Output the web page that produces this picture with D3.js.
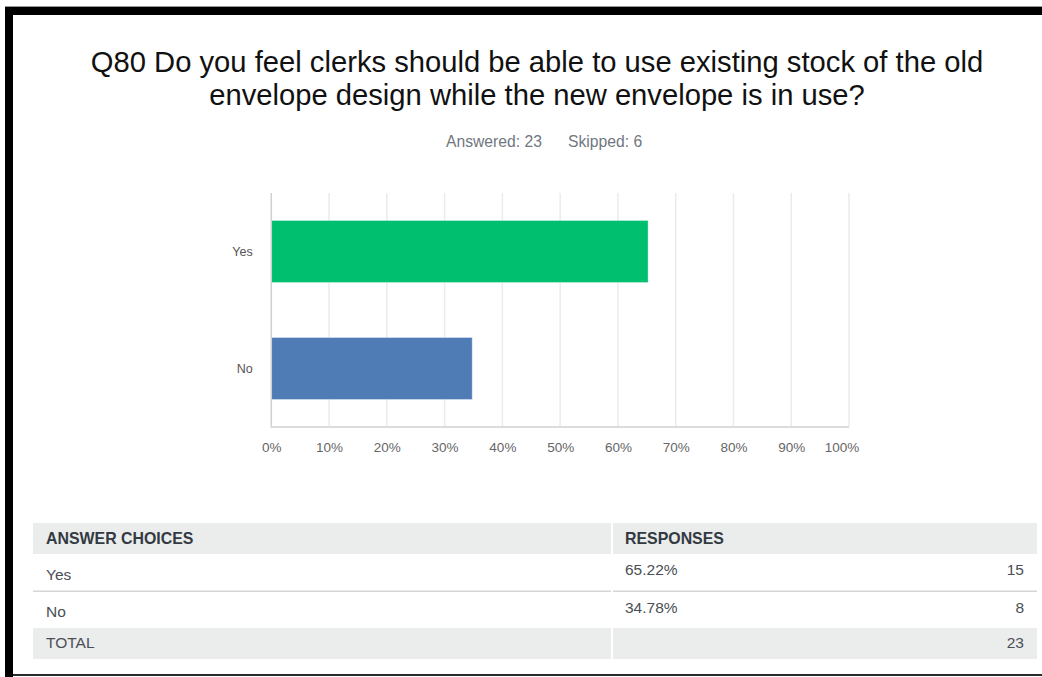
<!DOCTYPE html>
<html>
<head>
<meta charset="utf-8">
<script src="https://cdn.jsdelivr.net/npm/d3@7"></script>
<style>
  html, body { margin: 0; padding: 0; background: #ffffff; }
  svg { display: block; }
  text { font-family: "Liberation Sans", Arial, sans-serif; }
</style>
</head>
<body>
<svg id="chart" width="1042" height="677"></svg>
<script>
// Survey question data
const titleLines = [
  "Q80 Do you feel clerks should be able to use existing stock of the old",
  "envelope design while the new envelope is in use?"
];
const answered = 23;
const skipped = 6;
const choices = ["Yes", "No"];
const percents = [65.22, 34.78];
const counts = [15, 8];
const total = 23;
const barColors = ["#00bf6f", "#507cb6"];
const tickValues = [0, 10, 20, 30, 40, 50, 60, 70, 80, 90, 100];

const svg = d3.select("#chart");
const W = 1042, H = 677;

// Frame: heavy black top and left edges, thin dark bottom edge
svg.append("rect").attr("x", 5).attr("y", 6).attr("width", W - 5).attr("height", 1).attr("fill", "#9a9a9a");
svg.append("rect").attr("x", 5).attr("y", 7).attr("width", W - 5).attr("height", 8).attr("fill", "#000");
svg.append("rect").attr("x", 5).attr("y", 7).attr("width", 8).attr("height", H - 7).attr("fill", "#000");
svg.append("rect").attr("x", 13).attr("y", 674).attr("width", W - 13).attr("height", 2).attr("fill", "#2a2a2a");

// Title
const title = svg.append("text")
  .attr("text-anchor", "middle")
  .attr("font-size", 29.2)
  .attr("fill", "#111");
titleLines.forEach((line, i) => {
  title.append("tspan").attr("x", 537).attr("y", 71.5 + i * 33.5).text(line);
});

// Answered / skipped
svg.append("text")
  .attr("x", 446).attr("y", 146.5)
  .attr("font-size", 15.7).attr("fill", "#707780")
  .text(`Answered: ${answered}`);
svg.append("text")
  .attr("x", 568).attr("y", 146.5)
  .attr("font-size", 15.7).attr("fill", "#707780")
  .text(`Skipped: ${skipped}`);

// Bar chart
const plotTop = 193, plotBottom = 427;
const x = d3.scaleLinear().domain([0, 100]).range([271.3, 849]);
const y = d3.scaleBand().domain(choices).range([plotTop, plotBottom])
  .paddingInner(0.47).paddingOuter(0.235);

const chart = svg.append("g");

// Vertical gridlines
chart.selectAll("line.grid")
  .data(tickValues.slice(1))
  .join("line")
  .attr("class", "grid")
  .attr("x1", d => x(d)).attr("x2", d => x(d))
  .attr("y1", plotTop).attr("y2", plotBottom)
  .attr("stroke", "#ebebeb").attr("stroke-width", 1.5);

// Bars
chart.selectAll("rect.bar")
  .data(choices)
  .join("rect")
  .attr("class", "bar")
  .attr("x", x(0))
  .attr("y", d => y(d))
  .attr("width", (d, i) => x(percents[i]) - x(0))
  .attr("height", y.bandwidth())
  .attr("fill", (d, i) => barColors[i])
  .attr("stroke", "rgba(255,255,255,0.35)")
  .attr("stroke-width", 1);

// Axis lines
chart.append("line")
  .attr("x1", x(0)).attr("x2", x(0)).attr("y1", plotTop).attr("y2", plotBottom + 1)
  .attr("stroke", "#d0d0d0").attr("stroke-width", 1.5);
chart.append("line")
  .attr("x1", x(0)).attr("x2", x(100)).attr("y1", plotBottom).attr("y2", plotBottom)
  .attr("stroke", "#dcdcdc").attr("stroke-width", 2);

// X axis tick labels
const xAxis = d3.axisBottom(x)
  .tickValues(tickValues)
  .tickFormat(d => d + "%")
  .tickSize(0)
  .tickPadding(0);
const xg = chart.append("g")
  .attr("transform", `translate(0,${plotBottom})`)
  .call(xAxis);
xg.select(".domain").remove();
xg.selectAll("text")
  .attr("dy", null)
  .attr("y", 24.5)
  .attr("font-size", 13.5)
  .attr("font-family", "'Liberation Sans', Arial, sans-serif")
  .attr("fill", "#666");
xg.selectAll(".tick").filter(d => d === 100).select("text").attr("dx", -7.5);

// Y axis category labels
const yAxis = d3.axisLeft(y).tickSize(0).tickPadding(18.6);
const yg = chart.append("g")
  .attr("transform", `translate(${x(0)},0)`)
  .call(yAxis);
yg.select(".domain").remove();
yg.selectAll("text")
  .attr("dy", "0.38em")
  .attr("font-size", 12.5)
  .attr("font-family", "'Liberation Sans', Arial, sans-serif")
  .attr("fill", "#555");

// Summary table
const tbl = svg.append("g");
const col1 = { x: 33, w: 578 };
const col2 = { x: 613, w: 424 };
const headerBg = "#ebeded";

const rows = [
  { top: 523, h: 31, bg: headerBg },
  { top: 554, h: 37, bg: "#fff" },
  { top: 592, h: 36, bg: "#fff" },
  { top: 628, h: 31, bg: headerBg }
];
rows.forEach(r => {
  tbl.append("rect").attr("x", col1.x).attr("y", r.top).attr("width", col1.w).attr("height", r.h).attr("fill", r.bg);
  tbl.append("rect").attr("x", col2.x).attr("y", r.top).attr("width", col2.w).attr("height", r.h).attr("fill", r.bg);
});
// separator between answer rows
tbl.append("rect").attr("x", col1.x).attr("y", 590.5).attr("width", col1.w).attr("height", 1.5).attr("fill", "#d6d6d6");
tbl.append("rect").attr("x", col2.x).attr("y", 590.5).attr("width", col2.w).attr("height", 1.5).attr("fill", "#d6d6d6");

const hdrStyle = sel => sel.attr("font-size", 15.9).attr("font-weight", "bold").attr("fill", "#333a42");
const cellStyle = sel => sel.attr("font-size", 15.5).attr("fill", "#4a4f55");

tbl.append("text").attr("x", 46).attr("y", 544).text("ANSWER CHOICES").call(hdrStyle);
tbl.append("text").attr("x", 625).attr("y", 544).text("RESPONSES").call(hdrStyle);

const labelBaselines = [580, 617.3];
const valueBaselines = [574.5, 612.7];
choices.forEach((c, i) => {
  tbl.append("text").attr("x", 46).attr("y", labelBaselines[i]).text(c).call(cellStyle);
  tbl.append("text").attr("x", 625).attr("y", valueBaselines[i]).text(percents[i].toFixed(2) + "%").call(cellStyle);
  tbl.append("text").attr("x", 1024).attr("y", valueBaselines[i]).attr("text-anchor", "end").text(counts[i]).call(cellStyle);
});
tbl.append("text").attr("x", 46).attr("y", 648.3).text("TOTAL").call(cellStyle);
tbl.append("text").attr("x", 1024).attr("y", 648.3).attr("text-anchor", "end").text(total).call(cellStyle);
</script>
</body>
</html>
